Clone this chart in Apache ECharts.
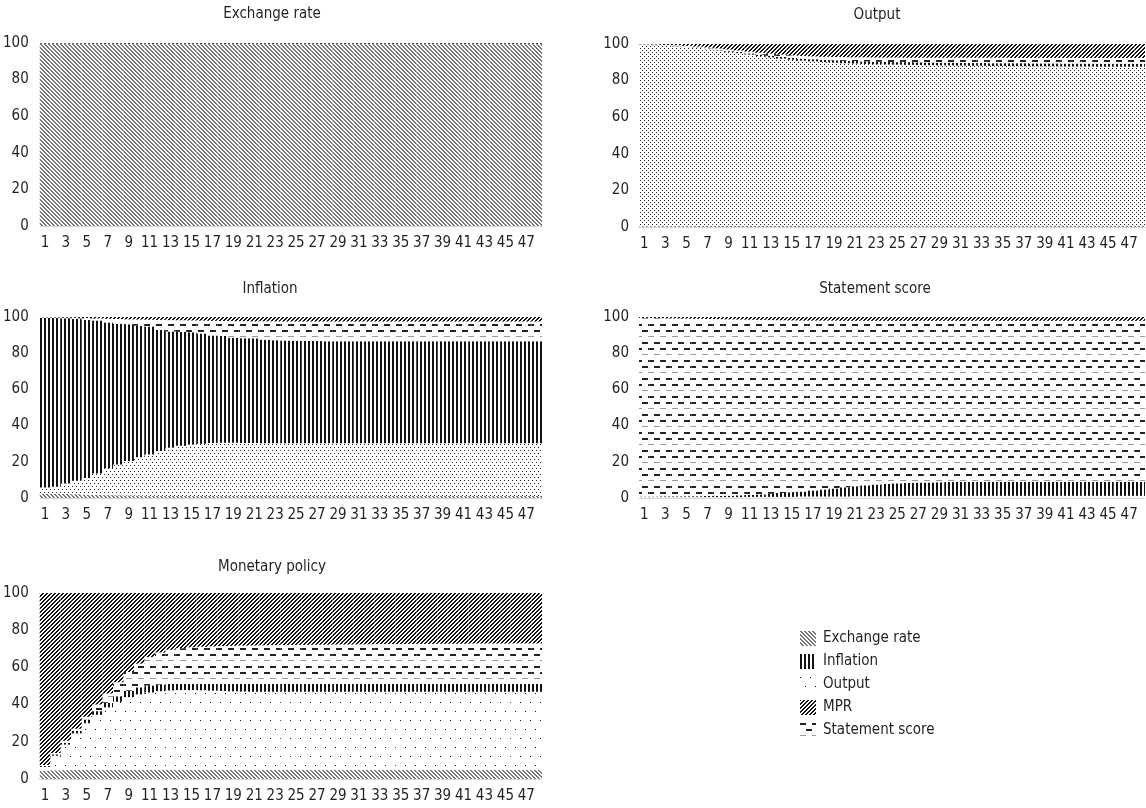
<!DOCTYPE html>
<html><head><meta charset="utf-8">
<script src="https://cdn.jsdelivr.net/npm/echarts@6/dist/echarts.min.js"></script>
<style>html,body{margin:0;padding:0;background:#fff}#c{width:1146px;height:808px}</style>
</head><body><div id="c"></div>
<script>
// ---------- DATA ----------
const categories = ['1','2','3','4','5','6','7','8','9','10','11','12','13','14','15','16','17','18','19','20','21','22','23','24','25','26','27','28','29','30','31','32','33','34','35','36','37','38','39','40','41','42','43','44','45','46','47','48'];
const yTicks = [0,20,40,60,80,100];
const seriesNames = ['Exchange rate','Inflation','Output','MPR','Statement score'];
const panelTitles = ['Exchange rate','Output','Inflation','Statement score','Monetary policy'];

// Panel: Exchange rate
const exrER  = [99.4,99.4,99.4,99.4,99.3,99.3,99.3,99.3,99.3,99.3,99.3,99.3,99.3,99.3,99.3,99.3,99.3,99.3,99.3,99.3,99.3,99.3,99.3,99.3,99.3,99.3,99.3,99.3,99.3,99.3,99.3,99.3,99.3,99.3,99.3,99.3,99.3,99.3,99.3,99.3,99.3,99.3,99.3,99.3,99.3,99.3,99.3,99.3];
const exrOut = [0.1,0.1,0.1,0.1,0.1,0.1,0.1,0.1,0.1,0.1,0.1,0.1,0.1,0.1,0.1,0.1,0.1,0.1,0.1,0.1,0.1,0.1,0.1,0.1,0.1,0.1,0.1,0.1,0.1,0.1,0.1,0.1,0.1,0.1,0.1,0.1,0.1,0.1,0.1,0.1,0.1,0.1,0.1,0.1,0.1,0.1,0.1,0.1];
const exrInf = [0.1,0.1,0.1,0.1,0.1,0.1,0.1,0.1,0.1,0.1,0.1,0.1,0.1,0.1,0.1,0.1,0.1,0.1,0.1,0.1,0.1,0.1,0.1,0.1,0.1,0.1,0.1,0.1,0.1,0.1,0.1,0.1,0.1,0.1,0.1,0.1,0.1,0.1,0.1,0.1,0.1,0.1,0.1,0.1,0.1,0.1,0.1,0.1];
const exrSS  = [0.1,0.1,0.1,0.1,0.1,0.1,0.1,0.1,0.1,0.1,0.1,0.1,0.1,0.1,0.1,0.1,0.1,0.1,0.1,0.1,0.1,0.1,0.1,0.1,0.1,0.1,0.1,0.1,0.1,0.1,0.1,0.1,0.1,0.1,0.1,0.1,0.1,0.1,0.1,0.1,0.1,0.1,0.1,0.1,0.1,0.1,0.1,0.1];
const exrMPR = [0.3,0.3,0.3,0.3,0.4,0.4,0.4,0.4,0.4,0.4,0.4,0.4,0.4,0.4,0.4,0.4,0.4,0.4,0.4,0.4,0.4,0.4,0.4,0.4,0.4,0.4,0.4,0.4,0.4,0.4,0.4,0.4,0.4,0.4,0.4,0.4,0.4,0.4,0.4,0.4,0.4,0.4,0.4,0.4,0.4,0.4,0.4,0.4];

// Panel: Output
const outER  = [0.4,0.4,0.5,0.5,0.5,0.6,0.6,0.6,0.7,0.7,0.7,0.7,0.7,0.7,0.7,0.8,0.8,0.8,0.8,0.8,0.8,0.8,0.8,0.8,0.8,0.8,0.8,0.8,0.8,0.8,0.8,0.8,0.8,0.8,0.8,0.8,0.8,0.8,0.8,0.8,0.8,0.8,0.8,0.8,0.8,0.8,0.8,0.8];
const outOut = [99.1,98.9,98.5,98.2,97.8,97.2,96.6,95.9,95.1,94.3,93.5,92.7,92.0,91.3,90.7,90.1,89.7,89.3,89.0,88.7,88.5,88.3,88.1,88.0,87.9,87.8,87.7,87.6,87.5,87.5,87.4,87.3,87.3,87.2,87.2,87.1,87.1,87.0,87.0,87.0,86.9,86.9,86.9,86.8,86.8,86.8,86.8,86.8];
const outInf = [0.1,0.1,0.1,0.2,0.2,0.3,0.3,0.4,0.5,0.6,0.7,0.8,0.9,1.0,1.0,1.1,1.2,1.2,1.3,1.3,1.4,1.4,1.4,1.4,1.4,1.5,1.5,1.5,1.5,1.5,1.5,1.5,1.5,1.5,1.5,1.6,1.6,1.6,1.6,1.6,1.6,1.6,1.6,1.6,1.6,1.6,1.6,1.6];
const outSS  = [0.2,0.3,0.4,0.4,0.5,0.5,0.6,0.7,0.7,0.8,0.9,1.0,1.1,1.2,1.4,1.5,1.5,1.7,1.8,2.0,2.0,2.2,2.3,2.4,2.5,2.4,2.5,2.6,2.7,2.7,2.8,2.9,2.9,3.0,3.0,2.9,2.9,3.0,3.0,3.0,3.1,3.1,3.1,3.2,3.2,3.2,3.2,3.2];
const outMPR = [0.2,0.3,0.5,0.7,1.0,1.4,1.9,2.4,3.0,3.6,4.2,4.8,5.3,5.8,6.2,6.5,6.8,7.0,7.1,7.2,7.3,7.3,7.4,7.4,7.4,7.5,7.5,7.5,7.5,7.5,7.5,7.5,7.5,7.5,7.5,7.6,7.6,7.6,7.6,7.6,7.6,7.6,7.6,7.6,7.6,7.6,7.6,7.6];

// Panel: Inflation
const infER  = [2.5,2.5,2.3,2.1,1.9,1.7,1.6,1.5,1.4,1.3,1.2,1.2,1.1,1.1,1.1,1.1,1.1,1.1,1.1,1.1,1.1,1.1,1.1,1.1,1.1,1.1,1.1,1.1,1.1,1.1,1.1,1.1,1.1,1.1,1.1,1.1,1.1,1.1,1.1,1.1,1.1,1.1,1.1,1.1,1.1,1.1,1.1,1.1];
const infOut = [3.3,3.7,5.7,7.4,9.1,11.8,14.9,17.0,19.1,21.2,22.8,24.8,26.7,27.7,28.4,28.9,29.3,29.4,29.4,29.3,29.3,29.2,29.2,29.2,29.2,29.2,29.2,29.2,29.2,29.2,29.2,29.2,29.2,29.2,29.2,29.2,29.2,29.2,29.2,29.2,29.2,29.2,29.2,29.2,29.2,29.2,29.2,29.2];
const infInf = [93.7,93.2,91.3,89.5,87.4,84.6,80.5,77.8,75.5,72.7,70.8,66.9,64.2,63.0,62.1,60.9,59.4,59.0,58.1,57.9,57.8,57.2,56.9,56.7,56.6,56.5,56.4,56.3,56.3,56.3,56.3,56.3,56.3,56.3,56.3,56.3,56.3,56.3,56.3,56.3,56.3,56.3,56.3,56.3,56.3,56.3,56.3,56.3];
const infSS  = [0.3,0.3,0.3,0.5,1.0,1.1,2.0,2.6,2.7,3.4,3.7,5.5,6.3,6.4,6.5,7.1,8.1,8.3,9.1,9.4,9.4,10.1,10.4,10.5,10.6,10.7,10.8,10.9,10.9,10.9,10.9,10.9,10.9,10.9,10.9,10.9,10.9,10.9,10.9,10.9,10.9,10.9,10.9,10.9,10.9,10.9,10.9,10.9];
const infMPR = [0.2,0.3,0.4,0.5,0.6,0.8,1.0,1.1,1.3,1.4,1.5,1.6,1.7,1.8,1.9,2.0,2.1,2.2,2.3,2.3,2.4,2.4,2.4,2.5,2.5,2.5,2.5,2.5,2.5,2.5,2.5,2.5,2.5,2.5,2.5,2.5,2.5,2.5,2.5,2.5,2.5,2.5,2.5,2.5,2.5,2.5,2.5,2.5];

// Panel: Statement score
const stsER  = [0.2,0.2,0.2,0.2,0.2,0.2,0.2,0.2,0.2,0.2,0.2,0.2,0.2,0.2,0.2,0.2,0.2,0.2,0.2,0.2,0.2,0.2,0.2,0.2,0.2,0.2,0.2,0.2,0.2,0.2,0.2,0.2,0.2,0.2,0.2,0.2,0.2,0.2,0.2,0.2,0.2,0.2,0.2,0.2,0.2,0.2,0.2,0.2];
const stsOut = [0.3,0.3,0.3,0.3,0.3,0.3,0.3,0.3,0.3,0.3,0.4,0.4,0.4,0.4,0.4,0.6,0.6,0.6,0.6,0.6,0.8,0.8,0.8,0.8,0.8,1.0,1.0,1.0,1.0,1.0,1.0,1.0,1.0,1.0,1.0,1.0,1.0,1.0,1.0,1.0,1.0,1.0,1.0,1.0,1.0,1.0,1.0,1.0];
const stsInf = [0.3,0.3,0.4,0.4,0.5,0.5,0.6,0.7,0.8,1.0,1.1,1.4,1.8,2.2,2.6,2.8,3.4,3.9,4.5,5.1,5.5,6.0,6.4,6.8,7.1,7.1,7.3,7.4,7.5,7.6,7.7,7.7,7.7,7.7,7.7,7.7,7.7,7.7,7.7,7.7,7.7,7.7,7.7,7.7,7.7,7.7,7.7,7.7];
const stsSS  = [98.7,98.6,98.4,98.3,98.1,98.0,97.8,97.6,97.4,97.1,96.8,96.4,95.9,95.4,94.9,94.4,93.8,93.3,92.7,92.0,91.4,90.9,90.5,90.1,89.8,89.6,89.4,89.3,89.2,89.1,89.0,89.0,89.0,89.0,89.0,89.0,89.0,89.0,89.0,89.0,89.0,89.0,89.0,89.0,89.0,89.0,89.0,89.0];
const stsMPR = [0.5,0.6,0.7,0.8,0.9,1.0,1.1,1.2,1.3,1.4,1.5,1.6,1.7,1.8,1.9,2.0,2.0,2.0,2.0,2.1,2.1,2.1,2.1,2.1,2.1,2.1,2.1,2.1,2.1,2.1,2.1,2.1,2.1,2.1,2.1,2.1,2.1,2.1,2.1,2.1,2.1,2.1,2.1,2.1,2.1,2.1,2.1,2.1];

// Panel: Monetary policy
const monER  = [4.5,4.7,4.8,4.9,5.0,5.0,5.0,5.0,5.0,5.0,5.0,5.0,5.0,5.0,5.0,5.0,5.0,5.0,5.0,5.0,5.0,5.0,5.0,5.0,5.0,5.0,5.0,5.0,5.0,5.0,5.0,5.0,5.0,5.0,5.0,5.0,5.0,5.0,5.0,5.0,5.0,5.0,5.0,5.0,5.0,5.0,5.0,5.0];
const monOut = [2.0,7.8,13.7,19.6,25.0,29.5,33.5,36.5,39.0,40.5,41.5,42.2,42.6,42.8,42.8,42.7,42.5,42.3,42.1,42.0,41.9,41.9,41.9,41.9,41.9,41.9,41.9,41.9,41.9,41.9,41.9,41.9,41.9,41.9,41.9,41.9,41.9,41.9,41.9,41.9,41.9,41.9,41.9,41.9,41.9,41.9,41.9,41.9];
const monInf = [0.5,0.8,1.0,1.3,2.0,2.0,2.5,3.0,3.5,3.8,3.8,3.6,3.5,3.4,3.4,3.5,3.7,3.9,4.1,4.2,4.3,4.3,4.3,4.3,4.3,4.3,4.3,4.3,4.3,4.3,4.3,4.3,4.3,4.3,4.3,4.3,4.3,4.3,4.3,4.3,4.3,4.3,4.3,4.3,4.3,4.3,4.3,4.3];
const monSS  = [0.5,0.7,1.0,1.2,1.5,3.5,5.0,7.5,10.0,12.7,15.2,17.2,18.4,19.1,19.6,19.9,20.1,20.3,20.4,20.5,20.6,20.7,20.8,20.8,20.9,20.9,21.0,21.0,21.1,21.1,21.2,21.2,21.3,21.3,21.3,21.4,21.4,21.4,21.5,21.5,21.5,21.6,21.6,21.6,21.6,21.7,21.7,21.7];
const monMPR = [92.5,86.0,79.5,73.0,66.5,60.0,54.0,48.0,42.5,38.0,34.5,32.0,30.5,29.7,29.2,28.9,28.7,28.5,28.4,28.3,28.2,28.1,28.0,28.0,27.9,27.9,27.8,27.8,27.7,27.7,27.6,27.6,27.5,27.5,27.5,27.4,27.4,27.4,27.3,27.3,27.3,27.2,27.2,27.2,27.2,27.1,27.1,27.1];

// ---------- STYLE ----------
const FONT = '"Liberation Sans Narrow", "DejaVu Sans Condensed", "Roboto Condensed", "Liberation Sans", sans-serif';
const TXT = '#231f20';
const FS = 15;

function pattern(w, h, draw) {
  const c = document.createElement('canvas');
  c.width = w; c.height = h;
  const g = c.getContext('2d');
  g.fillStyle = '#ffffff'; g.fillRect(0, 0, w, h);
  draw(g);
  return { image: c, repeat: 'repeat' };
}
const patER = pattern(4, 4, g => { g.fillStyle = '#777'; for (let i = 0; i < 4; i++) { g.fillRect(i, i, 1, 1); g.fillRect((i + 1) % 4, i, 1, 1); } });
const patInf = pattern(4, 1, g => { g.fillStyle = '#111'; g.fillRect(0, 0, 2, 1); });
const patOutDense = pattern(4, 4, g => { g.fillStyle = '#222'; g.fillRect(0, 0, 1, 1); g.fillRect(2, 2, 1, 1); });
const patOutMed = pattern(4, 6, g => { g.fillStyle = '#222'; g.fillRect(0, 0, 1, 1); g.fillRect(2, 3, 1, 1); });
const patOutSparse = pattern(10, 18, g => { g.fillStyle = '#111'; g.fillRect(0, 0, 1, 1); g.fillRect(5, 9, 1, 1); });
const patMPR = pattern(4, 4, g => { g.fillStyle = '#111'; for (let i = 0; i < 4; i++) { g.fillRect(3 - i, i, 1, 1); g.fillRect((4 - i) % 4, i, 1, 1); } });
const patSS = pattern(12, 36, g => {
  const rows = [[0, 0, '#222', 2], [6, 6, '#222', 2], [12, 0, '#9a9a9a', 1], [18, 6, '#222', 2], [24, 0, '#222', 2], [30, 6, '#9a9a9a', 1]];
  rows.forEach(([y, off, col, hgt]) => { g.fillStyle = col; g.fillRect(off, y, 6, hgt); });
});

// ---------- PANELS ----------
const panels = [
  { title: panelTitles[0], tx: 272, ty: 14, grid: { left: 35, top: 43, width: 507, height: 183 }, lm: 11,
    data: { er: exrER, out: exrOut, inf: exrInf, ss: exrSS, mpr: exrMPR }, outPat: patOutSparse },
  { title: panelTitles[1], tx: 877, ty: 15, grid: { left: 639, top: 44, width: 506, height: 183 }, lm: 10,
    data: { er: outER, out: outOut, inf: outInf, ss: outSS, mpr: outMPR }, outPat: patOutDense },
  { title: panelTitles[2], tx: 270, ty: 289, grid: { left: 35, top: 317, width: 507, height: 181 }, lm: 11,
    data: { er: infER, out: infOut, inf: infInf, ss: infSS, mpr: infMPR }, outPat: patOutMed },
  { title: panelTitles[3], tx: 875, ty: 289, grid: { left: 639, top: 317, width: 506, height: 181 }, lm: 10,
    data: { er: stsER, out: stsOut, inf: stsInf, ss: stsSS, mpr: stsMPR }, outPat: patOutMed },
  { title: panelTitles[4], tx: 272, ty: 567, grid: { left: 35, top: 593, width: 507, height: 186 }, lm: 11,
    data: { er: monER, out: monOut, inf: monInf, ss: monSS, mpr: monMPR }, outPat: patOutSparse }
];

const grids = [], xAxes = [], yAxes = [], series = [], graphics = [];
panels.forEach((p, i) => {
  grids.push(Object.assign({ containLabel: false }, p.grid));
  xAxes.push({
    type: 'category', gridIndex: i, data: categories,
    axisTick: { show: false },
    axisLine: { lineStyle: { color: '#d9d9d9', width: 1 } },
    axisLabel: { interval: 1, color: TXT, fontSize: FS, fontFamily: FONT, margin: 10 }
  });
  yAxes.push({
    type: 'value', gridIndex: i, min: yTicks[0], max: yTicks[yTicks.length - 1], interval: yTicks[1] - yTicks[0],
    splitLine: { show: false }, axisLine: { show: false }, axisTick: { show: false },
    axisLabel: { color: TXT, fontSize: FS, fontFamily: FONT, margin: p.lm }
  });
  graphics.push({ type: 'text', x: p.tx, y: p.ty, silent: true,
    style: { text: p.title, fill: TXT, font: FS + 'px ' + FONT, textAlign: 'center', textVerticalAlign: 'middle', align: 'center', verticalAlign: 'middle' } });
  // stacking order bottom -> top
  const order = [
    ['Exchange rate', p.data.er, patER],
    ['Output', p.data.out, p.outPat],
    ['Inflation', p.data.inf, patInf],
    ['Statement score', p.data.ss, patSS],
    ['MPR', p.data.mpr, patMPR]
  ];
  order.forEach(([name, vals, pat]) => {
    series.push({
      type: 'bar', name: name, stack: 'p' + i, xAxisIndex: i, yAxisIndex: i,
      data: vals, barCategoryGap: '0%', barGap: '0%',
      itemStyle: { color: pat, borderWidth: 0 },
      emphasis: { disabled: true }, silent: true
    });
  });
});

const chart = echarts.init(document.getElementById('c'), null, { renderer: 'canvas' });
chart.setOption({
  animation: false,
  backgroundColor: '#ffffff',
  textStyle: { fontFamily: FONT },
  grid: grids, xAxis: xAxes, yAxis: yAxes, series: series,
  graphic: graphics,
  legend: {
    data: seriesNames, orient: 'vertical', left: 795, top: 626,
    itemWidth: 16, itemHeight: 15, itemGap: 8, icon: 'rect', selectedMode: false,
    textStyle: { color: TXT, fontSize: FS, fontFamily: FONT, padding: [0, 0, 0, 2] }
  }
});
</script>
</body></html>
